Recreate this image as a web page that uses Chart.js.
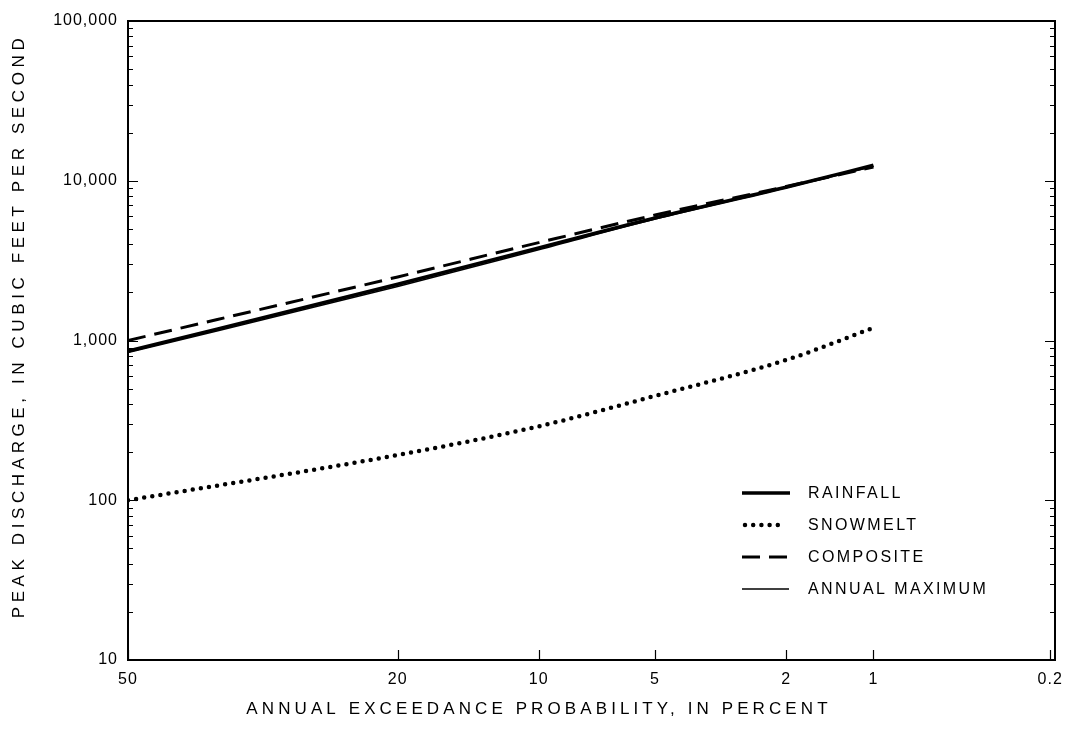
<!DOCTYPE html>
<html>
<head>
<meta charset="utf-8">
<title>Peak discharge frequency curves</title>
<script src="https://cdn.jsdelivr.net/npm/chart.js@4.4.1/dist/chart.umd.min.js"></script>
<style>
  html, body { margin: 0; padding: 0; background: #fff; }
  #wrap { width: 1070px; height: 732px; }
</style>
</head>
<body>
<div id="wrap"><canvas id="freqChart" width="1070" height="732"></canvas></div>
<script>
// values
const exceedance = [50, 20, 10, 5, 2, 1];           // percent
const rainfall   = [860, 2250, 3800, 5850, 9100, 12500];
const snowmelt   = [100, 192, 290, 450, 755, 1200];
const composite  = [1000, 2500, 4100, 6100, 9200, 12200];
const annualMax  = [840, 2180, 3700, 5750, 9050, 12300];

const xTickLabels = [50, 20, 10, 5, 2, 1, 0.2];
const yTickValues = [10, 100, 1000, 10000, 100000];

const FONT = "'Liberation Sans', Arial, sans-serif";

// inverse normal CDF (Acklam) - used for the probability axis
function probit(p) {
    const a = [-39.69683028665376, 220.9460984245205, -275.9285104469687, 138.3577518672690, -30.66479806614716, 2.506628277459239];
    const b = [-54.47609879822406, 161.5858368580409, -155.6989798598866, 66.80131188771972, -13.28068155288572];
    const c = [-0.007784894002430293, -0.3223964580411365, -2.400758277161838, -2.549732539343734, 4.374664141464968, 2.938163982698783];
    const d = [0.007784695709041462, 0.3224671290700398, 2.445134137142996, 3.754408661907416];
    const pl = 0.02425;
    let q, r;
    if (p < pl) {
        q = Math.sqrt(-2 * Math.log(p));
        return (((((c[0] * q + c[1]) * q + c[2]) * q + c[3]) * q + c[4]) * q + c[5]) /
               ((((d[0] * q + d[1]) * q + d[2]) * q + d[3]) * q + 1);
    }
    if (p <= 1 - pl) {
        q = p - 0.5; r = q * q;
        return (((((a[0] * r + a[1]) * r + a[2]) * r + a[3]) * r + a[4]) * r + a[5]) * q /
               (((((b[0] * r + b[1]) * r + b[2]) * r + b[3]) * r + b[4]) * r + 1);
    }
    q = Math.sqrt(-2 * Math.log(1 - p));
    return -(((((c[0] * q + c[1]) * q + c[2]) * q + c[3]) * q + c[4]) * q + c[5]) /
             ((((d[0] * q + d[1]) * q + d[2]) * q + d[3]) * q + 1);
}
// exceedance percent -> standard normal variate
function zOf(pct) { return -probit(pct / 100); }

function series(values) {
    return values.map(function(v, i) { return { x: zOf(exceedance[i]), y: v }; });
}

// frame, inward tick marks, axis titles and the legend box
const decorations = {
    id: 'decorations',
    beforeDraw: function(chart) {
        chart.ctx.letterSpacing = '1px';
    },
    afterDraw: function(chart) {
        const ctx = chart.ctx;
        const area = chart.chartArea;
        const xs = chart.scales.x, ys = chart.scales.y;
        ctx.save();
        ctx.strokeStyle = '#000';
        ctx.fillStyle = '#000';

        // frame
        ctx.lineWidth = 2;
        ctx.strokeRect(area.left, area.top, area.right - area.left, area.bottom - area.top);

        // y ticks, both sides
        ctx.lineWidth = 1.2;
        ctx.beginPath();
        for (let dec = 10; dec < 100000; dec *= 10) {
            for (let k = 1; k < 10; k++) {
                const y = Math.round(ys.getPixelForValue(dec * k)) + 0.5;
                const len = k === 1 ? 10 : 5;
                ctx.moveTo(area.left, y); ctx.lineTo(area.left + len, y);
                ctx.moveTo(area.right, y); ctx.lineTo(area.right - len, y);
            }
        }
        // x ticks on the bottom
        xTickLabels.forEach(function(p) {
            const x = Math.round(xs.getPixelForValue(zOf(p))) + 0.5;
            ctx.moveTo(x, area.bottom); ctx.lineTo(x, area.bottom - 10);
        });
        ctx.stroke();

        // axis titles
        ctx.font = '17px ' + FONT;
        ctx.textAlign = 'center';
        ctx.textBaseline = 'middle';
        ctx.letterSpacing = '4.1px';
        ctx.fillText('ANNUAL EXCEEDANCE PROBABILITY, IN PERCENT', 539, 709);
        ctx.save();
        ctx.translate(19, 326);
        ctx.rotate(-Math.PI / 2);
        ctx.letterSpacing = '4.6px';
        ctx.fillText('PEAK DISCHARGE, IN CUBIC FEET PER SECOND', 0, 0);
        ctx.restore();

        // legend
        ctx.font = '16px ' + FONT;
        ctx.letterSpacing = '2.4px';
        ctx.textAlign = 'left';
        chart.data.datasets.forEach(function(ds, i) {
            const y = 493 + i * 32;
            ctx.save();
            ctx.lineWidth = ds.borderWidth;
            ctx.lineCap = ds.borderCapStyle || 'butt';
            ctx.setLineDash(ds.borderDash || []);
            ctx.beginPath();
            ctx.moveTo(ds.legendStart, y);
            ctx.lineTo(ds.legendEnd, y);
            ctx.stroke();
            ctx.restore();
            ctx.fillText(ds.label, 808, y + 1);
        });
        ctx.restore();
    }
};

new Chart(document.getElementById('freqChart').getContext('2d'), {
    type: 'line',
    data: {
        datasets: [
            {
                label: 'RAINFALL',
                data: series(rainfall),
                borderColor: '#000',
                borderWidth: 3.5,
                legendStart: 742, legendEnd: 790
            },
            {
                label: 'SNOWMELT',
                data: series(snowmelt),
                borderColor: '#000',
                borderWidth: 4.5,
                borderDash: [0, 8.2],
                borderCapStyle: 'round',
                legendStart: 745, legendEnd: 782
            },
            {
                label: 'COMPOSITE',
                data: series(composite),
                borderColor: '#000',
                borderWidth: 3,
                borderDash: [18, 9],
                legendStart: 742, legendEnd: 789
            },
            {
                label: 'ANNUAL MAXIMUM',
                data: series(annualMax),
                borderColor: '#000',
                borderWidth: 1.5,
                legendStart: 742, legendEnd: 789
            }
        ]
    },
    options: {
        responsive: false,
        animation: false,
        events: [],
        layout: { padding: { left: 0, top: 21, right: 15, bottom: 0 } },
        elements: {
            point: { radius: 0 },
            line: { cubicInterpolationMode: 'monotone', fill: false }
        },
        plugins: {
            legend: { display: false },
            tooltip: { enabled: false }
        },
        scales: {
            x: {
                type: 'linear',
                min: 0,
                max: 2.893,   // frame runs a touch past the 0.2 percent line
                grid: { display: false, drawTicks: false },
                border: { display: false },
                afterBuildTicks: function(scale) {
                    scale.ticks = xTickLabels.map(function(p) { return { value: zOf(p) }; });
                },
                afterFit: function(scale) {
                    scale.height = 72;
                    scale.paddingLeft = 0;
                    scale.paddingRight = 0;
                },
                ticks: {
                    autoSkip: false,
                    maxRotation: 0,
                    padding: 10,
                    color: '#000',
                    font: { family: FONT, size: 16 },
                    callback: function(value, index) { return String(xTickLabels[index]); }
                }
            },
            y: {
                type: 'logarithmic',
                min: 10,
                max: 100000,
                grid: { display: false, drawTicks: false },
                border: { display: false },
                afterBuildTicks: function(scale) {
                    scale.ticks = yTickValues.map(function(v) { return { value: v }; });
                },
                afterFit: function(scale) {
                    scale.width = 128;
                    scale.paddingTop = 0;
                    scale.paddingBottom = 0;
                },
                ticks: {
                    autoSkip: false,
                    padding: 10,
                    color: '#000',
                    font: { family: FONT, size: 16 },
                    callback: function(value) { return Number(value).toLocaleString('en-US'); }
                }
            }
        }
    },
    plugins: [decorations]
});
</script>
</body>
</html>
